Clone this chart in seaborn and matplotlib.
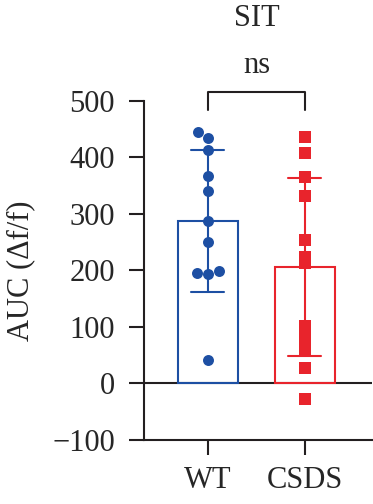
import numpy as np
import pandas as pd
import matplotlib
matplotlib.use("Agg")
import matplotlib.pyplot as plt
import seaborn as sns

# values
groups = ["WT", "CSDS"]
wt_auc = [444, 434, 413, 367, 341, 288, 251, 196, 194, 199, 41]
csds_auc = [436, 408, 366, 332, 254, 224, 213, 102, 81, 60, 28, -28]
yticks = [-100, 0, 100, 200, 300, 400, 500]
colors = {"WT": "#1d4fa3", "CSDS": "#e8242c"}

df = pd.DataFrame({
    "group": ["WT"] * len(wt_auc) + ["CSDS"] * len(csds_auc),
    "auc": wt_auc + csds_auc,
})

sns.set_style("ticks")
plt.rcParams["font.family"] = ["Liberation Serif", "DejaVu Serif"]
fs = 22

fig = plt.figure(figsize=(3.73, 5.04), dpi=100)
ax = fig.add_axes([0.386, 0.127, 0.611, 0.673])

sns.barplot(data=df, x="group", y="auc", hue="group", palette=colors,
            order=groups, hue_order=groups, errorbar="sd", fill=False,
            width=0.62, capsize=0.34, linewidth=1.5,
            err_kws={"linewidth": 1.5}, legend=False, ax=ax)

sns.swarmplot(data=df[df.group == "WT"], x="group", y="auc", order=groups,
              color=colors["WT"], size=7.9, marker="o", linewidth=0, ax=ax)
sns.stripplot(data=df[df.group == "CSDS"], x="group", y="auc", order=groups,
              color=colors["CSDS"], size=8.6, marker="s", jitter=False,
              linewidth=0, ax=ax)

ax.axhline(0, color="#231f20", lw=1.5, zorder=0.5)
ax.set_ylim(-100, 500)
ax.set_xlim(-0.66, 1.69)
ax.set_yticks(yticks)
ax.set_xlabel("")
ax.set_ylabel("AUC (\u0394f/f)", fontsize=fs, labelpad=12)
for side in ["top", "right"]:
    ax.spines[side].set_visible(False)
for side in ["left", "bottom"]:
    ax.spines[side].set_linewidth(1.5)
    ax.spines[side].set_color("#231f20")
ax.tick_params(axis="both", length=11, width=1.5, color="#231f20", labelsize=fs)
ax.tick_params(axis="y", pad=10)
ax.tick_params(axis="x", pad=8)

# significance bracket
ax.plot([0, 0, 1, 1], [483, 515, 515, 483], color="#231f20", lw=1.5, clip_on=False)
ax.text(0.5, 562, "ns", ha="center", va="center", fontsize=fs, clip_on=False)
ax.text(0.5, 645, "SIT", ha="center", va="center", fontsize=fs, clip_on=False)

fig.savefig("out.png", dpi=100)
